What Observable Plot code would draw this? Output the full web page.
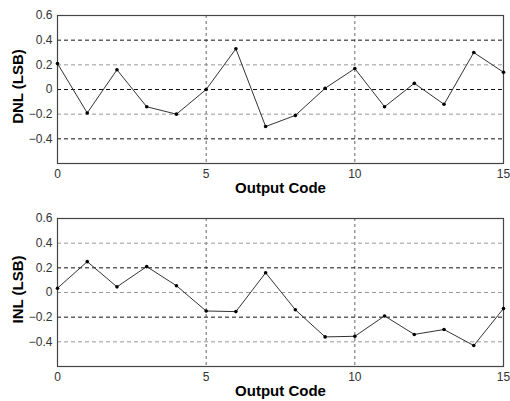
<!DOCTYPE html>
<html>
<head>
<meta charset="utf-8">
<script src="https://cdn.jsdelivr.net/npm/d3@7"></script>
<script src="https://cdn.jsdelivr.net/npm/@observablehq/plot@0.6"></script>
<style>
  html, body { margin: 0; padding: 0; background: #fff; }
  #chart svg { display: block; }
</style>
</head>
<body>
<div id="chart"></div>
<script>
const codes = [0, 1, 2, 3, 4, 5, 6, 7, 8, 9, 10, 11, 12, 13, 14, 15];
const dnl = [0.21, -0.19, 0.16, -0.14, -0.20, 0.00, 0.33, -0.30, -0.21, 0.01, 0.17, -0.14, 0.05, -0.12, 0.30, 0.14];
const inl = [0.035, 0.25, 0.046, 0.21, 0.055, -0.15, -0.155, 0.16, -0.14, -0.36, -0.355, -0.19, -0.34, -0.30, -0.43, -0.13];
const xTicks = [0, 5, 10, 15];
const yTicks = [0.6, 0.4, 0.2, 0, -0.2, -0.4];
const gridA = [0.4, 0, -0.4];
const gridB = [0.2, -0.2];
const xLabel = "Output Code";

function panel(values, yLabel, dark, light, opts) {
  const data = codes.map((c, i) => ({code: c, v: values[i]}));
  return Plot.plot({
    width: 510,
    height: opts.height,
    marginLeft: 57,
    marginRight: 7,
    marginTop: opts.marginTop,
    marginBottom: opts.marginBottom,
    style: {fontFamily: "Liberation Sans, Arial, sans-serif", fontSize: "12px", color: "#333", background: "#fff"},
    x: {domain: [0, 15], ticks: xTicks, tickSize: 0, tickPadding: 6, label: null},
    y: {domain: [-0.6, 0.6], ticks: yTicks, tickSize: 0, tickPadding: 5, label: null, tickFormat: d => d === 0 ? "0" : d3.format(".1f")(d)},
    marks: [
      Plot.ruleX([5, 10], {stroke: "#666", strokeDasharray: "3,3", strokeWidth: 1}),
      Plot.ruleY(dark, {stroke: "#111", strokeDasharray: "4,3", strokeWidth: 1}),
      Plot.ruleY(light, {stroke: "#999", strokeDasharray: "4,3", strokeWidth: 1}),
      Plot.frame({stroke: "#444", strokeWidth: 1.2}),
      Plot.line(data, {x: "code", y: "v", stroke: "#333", strokeWidth: 1}),
      Plot.dot(data, {x: "code", y: "v", r: 1.8, fill: "#000", stroke: "none"}),
      Plot.text([yLabel], {frameAnchor: "left", dx: -39, dy: -3, rotate: -90, fontWeight: "bold", fontSize: 15, fill: "#000", textAnchor: "middle"}),
      Plot.text([xLabel], {frameAnchor: "bottom", dy: 29, fontWeight: "bold", fontSize: 15, fill: "#000", textAnchor: "middle"})
    ]
  });
}

const el = document.getElementById("chart");
el.appendChild(panel(dnl, "DNL (LSB)", gridA, gridB, {height: 200, marginTop: 15, marginBottom: 37}));
el.appendChild(panel(inl, "INL (LSB)", gridB, gridA, {height: 201, marginTop: 18, marginBottom: 35}));
</script>
</body>
</html>
